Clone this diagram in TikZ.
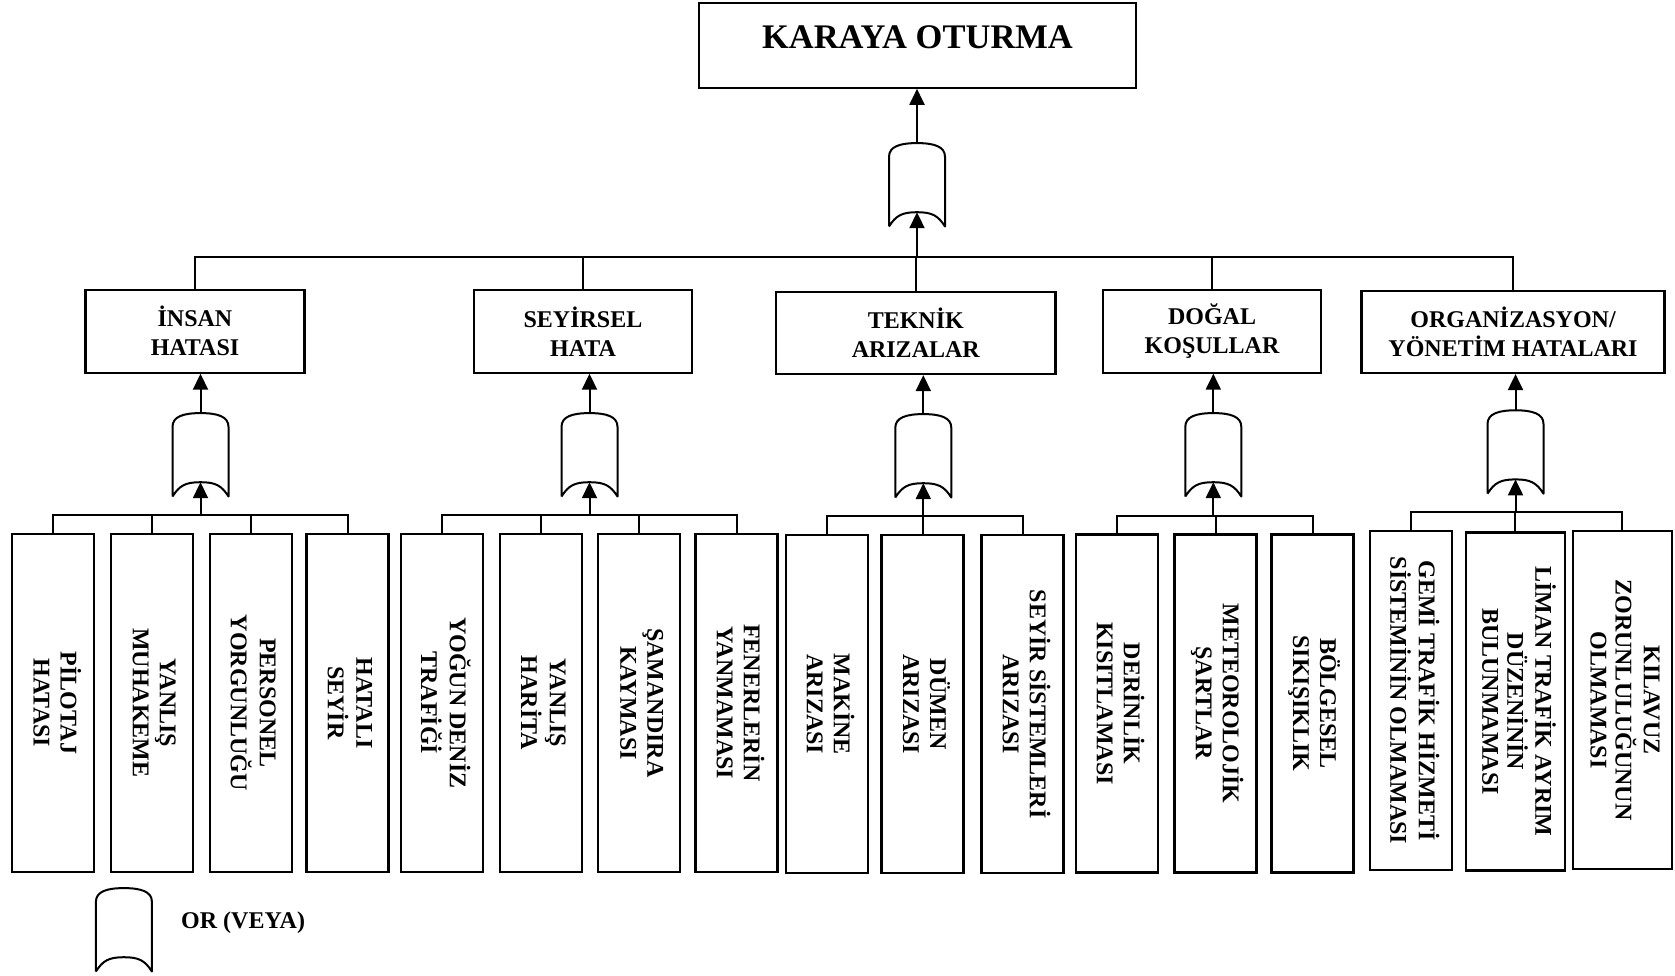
\documentclass[tikz,border=0pt]{standalone}
\usepackage{fontspec}
\setmainfont{Liberation Serif}
\usepackage{graphicx}
\usetikzlibrary{arrows.meta,calc}
\newcommand\catfont{\fontsize{24}{29}\selectfont\bfseries}
\newcommand\titlefont{\fontsize{34.5}{40}\selectfont\bfseries}
\newcommand\vtext[2][27]{\rotatebox{-90}{\fontsize{24}{#1}\selectfont\bfseries\begin{tabular}{@{}c@{}}#2\end{tabular}}}
% OR gate: name, centre x, top y
\newcommand\orgate[3]{%
  \node[gatebox] (#1) at (#2,#3+41.5) {};
  \draw[gateline] (#1.south west) -- ($(#1.south west)+(0pt,69.7pt)$)
    .. controls ($(#1.south west)+(0pt,80pt)$) and ($(#1.north)+(-17pt,0pt)$) .. (#1.north)
    .. controls ($(#1.north)+(17pt,0pt)$) and ($(#1.south east)+(0pt,80pt)$) .. ($(#1.south east)+(0pt,69.7pt)$)
    -- (#1.south east)
    .. controls ($(#1.south east)+(-7pt,11pt)$) and ($(#1.south)+(15pt,14.3pt)$) .. ($(#1.south)+(0pt,14.3pt)$)
    .. controls ($(#1.south)+(-15pt,14.3pt)$) and ($(#1.south west)+(7pt,11pt)$) .. (#1.south west);
}
\begin{document}
\begin{tikzpicture}[x=1pt,y=-1pt,
  box/.style={draw, line width=2.2pt, inner sep=0pt, align=center, font=\catfont},
  leafbox/.style={draw, line width=2.2pt, inner sep=0pt, minimum width=82pt, minimum height=338pt},
  ln/.style={line width=2pt},
  arr/.style={line width=2pt, -{Triangle[width=15pt,length=16pt]}},
  gatebox/.style={minimum width=55.6pt, minimum height=83pt, inner sep=0pt},
  gateline/.style={line width=2pt, line join=round}]
\useasboundingbox (0,0) rectangle (1675,976);

% top event
\node[box, minimum width=437pt, minimum height=84.4pt, font=\titlefont,
      text height=23.3pt, text depth=17.6pt] (top) at (917.5,45.5) {KARAYA OTURMA};
\orgate{g0}{917}{143.3}
\draw[arr] (g0.north) -- (g0.north |- top.south);

% categories
\node[box, minimum width=219pt, minimum height=82.6pt] (c1) at (195,331.3) {İNSAN\\HATASI};
\node[box, minimum width=218pt, minimum height=82.6pt] (c2) at (583,331.3) {SEYİRSEL\\HATA};
\node[box, minimum width=279.5pt, minimum height=82pt] (c3) at (915.75,333) {TEKNİK\\ARIZALAR};
\node[box, minimum width=218pt, minimum height=82.6pt] (c4) at (1212,331.3) {DOĞAL\\KOŞULLAR};
\node[box, minimum width=303pt, minimum height=82pt] (c5) at (1513,332) {ORGANİZASYON/\\YÖNETİM HATALARI};

\coordinate (mb) at (917,257.5);
\draw[ln] (c1.north) |- (mb) -| (c5.north);
\draw[ln] (c2.north) -- (c2.north |- mb);
\draw[ln] (c3.north) -- (c3.north |- mb);
\draw[ln] (c4.north) -- (c4.north |- mb);
\draw[arr] (mb) -- ($(g0.south)+(0pt,14.3pt)$);

% gates under categories
\orgate{g1}{200.5}{413.3}
\orgate{g2}{589.5}{413.3}
\orgate{g3}{923.3}{414.3}
\orgate{g4}{1213.3}{413.3}
\orgate{g5}{1515.5}{410.5}
\draw[arr] (g1.north) -- (g1.north |- c1.south);
\draw[arr] (g2.north) -- (g2.north |- c2.south);
\draw[arr] (g3.north) -- (g3.north |- c3.south);
\draw[arr] (g4.north) -- (g4.north |- c4.south);
\draw[arr] (g5.north) -- (g5.north |- c5.south);

% leaves: İNSAN HATASI
\node[leafbox] (l11) at (53.3,702.9) {\vtext{PİLOTAJ\\HATASI}};
\node[leafbox] (l12) at (151.85,702.9) {\vtext{YANLIŞ\\MUHAKEME}};
\node[leafbox] (l13) at (250.85,702.9) {\vtext{PERSONEL\\YORGUNLUĞU}};
\node[leafbox] (l14) at (347.5,702.9) {\vtext{HATALI\\SEYİR}};
% SEYİRSEL HATA
\node[leafbox] (l21) at (441.85,702.9) {\vtext{YOĞUN DENİZ\\TRAFİĞİ}};
\node[leafbox] (l22) at (540.85,702.9) {\vtext{YANLIŞ\\HARİTA}};
\node[leafbox] (l23) at (639.15,702.9) {\vtext{ŞAMANDIRA\\KAYMASI}};
\node[leafbox] (l24) at (736.5,702.9) {\vtext{FENERLERİN\\YANMAMASI}};
% TEKNİK ARIZALAR
\node[leafbox] (l31) at (826.7,704.2) {\vtext{MAKİNE\\ARIZASI}};
\node[leafbox] (l32) at (922.5,704.2) {\vtext{DÜMEN\\ARIZASI}};
\node[leafbox] (l33) at (1022.5,704.2) {\vtext{SEYİR SİSTEMLERİ\\ARIZASI}};
% DOĞAL KOŞULLAR
\node[leafbox] (l41) at (1116.7,703.4) {\vtext{DERİNLİK\\KISITLAMASI}};
\node[leafbox] (l42) at (1215.5,703.4) {\vtext{METEOROLOJİK\\ŞARTLAR}};
\node[leafbox] (l43) at (1312.5,703.4) {\vtext{BÖLGESEL\\SIKIŞIKLIK}};
% ORGANİZASYON
\node[leafbox, minimum height=339.3pt] (l51) at (1410.85,700.4) {\vtext{GEMİ TRAFİK HİZMETİ\\SİSTEMİNİN OLMAMASI}};
\node[leafbox, minimum width=99.3pt] (l52) at (1515.35,701.5) {\vtext[25]{LİMAN TRAFİK AYRIM\\DÜZENİNİN\\BULUNMAMASI}};
\node[leafbox, minimum width=99pt] (l53) at (1622.2,700) {\vtext[25]{KILAVUZ\\ZORUNLULUĞUNUN\\OLMAMASI}};

% sub buses
\coordinate (b1) at (200.5,515);
\draw[ln] (l11.north) |- (b1) -| (l14.north);
\draw[ln] (l12.north) -- (l12.north |- b1);
\draw[ln] (l13.north) -- (l13.north |- b1);
\draw[arr] (b1) -- ($(g1.south)+(0pt,14.3pt)$);

\coordinate (b2) at (589.5,515);
\draw[ln] (l21.north) |- (b2) -| (l24.north);
\draw[ln] (l22.north) -- (l22.north |- b2);
\draw[ln] (l23.north) -- (l23.north |- b2);
\draw[arr] (b2) -- ($(g2.south)+(0pt,14.3pt)$);

\coordinate (b3) at (923.3,515.7);
\draw[ln] (l31.north) |- (b3) -| (l33.north);
\draw[ln] (l32.north) -- (l32.north |- b3);
\draw[arr] (b3) -- ($(g3.south)+(0pt,14.3pt)$);

\coordinate (b4) at (1213.3,515.7);
\draw[ln] (l41.north) |- (b4) -| (l43.north);
\draw[ln] (l42.north) -- (l42.north |- b4);
\draw[arr] (b4) -- ($(g4.south)+(0pt,14.3pt)$);

\coordinate (b5) at (1515.5,512.3);
\draw[ln] (l51.north) |- (b5) -| (l53.north);
\draw[ln] (l52.north) -- (l52.north |- b5);
\draw[arr] (b5) -- ($(g5.south)+(0pt,14.3pt)$);

% legend
\orgate{gl}{123.9}{888.3}
\node[anchor=west, font=\catfont, inner sep=0pt] (legtext) at (181,923) {OR (VEYA)};
\end{tikzpicture}
\end{document}
